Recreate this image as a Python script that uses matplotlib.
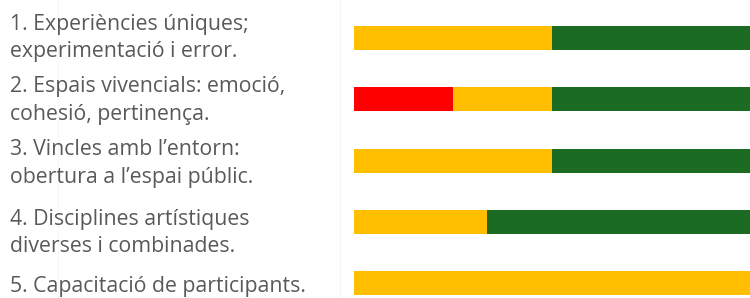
import matplotlib.pyplot as plt
from matplotlib.transforms import offset_copy

plt.rcParams['font.family'] = ['Open Sans', 'DejaVu Sans']

labels = ['1. Experiències úniques;\nexperimentació i error.',
          '2. Espais vivencials: emoció,\ncohesió, pertinença.',
          '3. Vincles amb l\u2019entorn:\nobertura a l\u2019espai públic.',
          '4. Disciplines artístiques\ndiverses i combinades.',
          '5. Capacitació de participants.']
red = [0, 25, 0, 0, 0]
gold = [50, 25, 50, 33.5, 100]
green = [50, 50, 50, 66.5, 0]

c_red = '#ff0000'
c_gold = '#ffbf00'
c_green = '#1b6b22'

fig = plt.figure(figsize=(7.5, 2.98), dpi=100)
ax = fig.add_axes([354 / 750, 0, 396 / 750, 1])

# faint guide lines in the background
for xp in (58, 339.5):
    fig.add_artist(plt.Line2D([xp / 750, xp / 750], [0, 1], color='#f7f7f7', lw=0.8, zorder=0))

y = list(range(len(labels)))
h = 0.39
ax.barh(y, red, height=h, color=c_red)
ax.barh(y, gold, height=h, left=red, color=c_gold)
left2 = [r + g for r, g in zip(red, gold)]
ax.barh(y, green, height=h, left=left2, color=c_green)

ax.set_xlim(0, 100)
ax.set_ylim(4.24, -0.62)
ax.axis('off')

# the labels in the original are not all centred on their bars
shift_px = [0, 1, 3, 11, 3]
for i, lab in enumerate(labels):
    tr = offset_copy(ax.get_yaxis_transform(), fig=fig, x=0, y=-shift_px[i] * 0.72, units='points')
    ax.text(-344 / 396, i, lab, transform=tr, ha='left', va='center',
            fontsize=15.3, color='#595959', linespacing=1.42, clip_on=False)

fig.savefig('out.png', dpi=100, facecolor='white')
